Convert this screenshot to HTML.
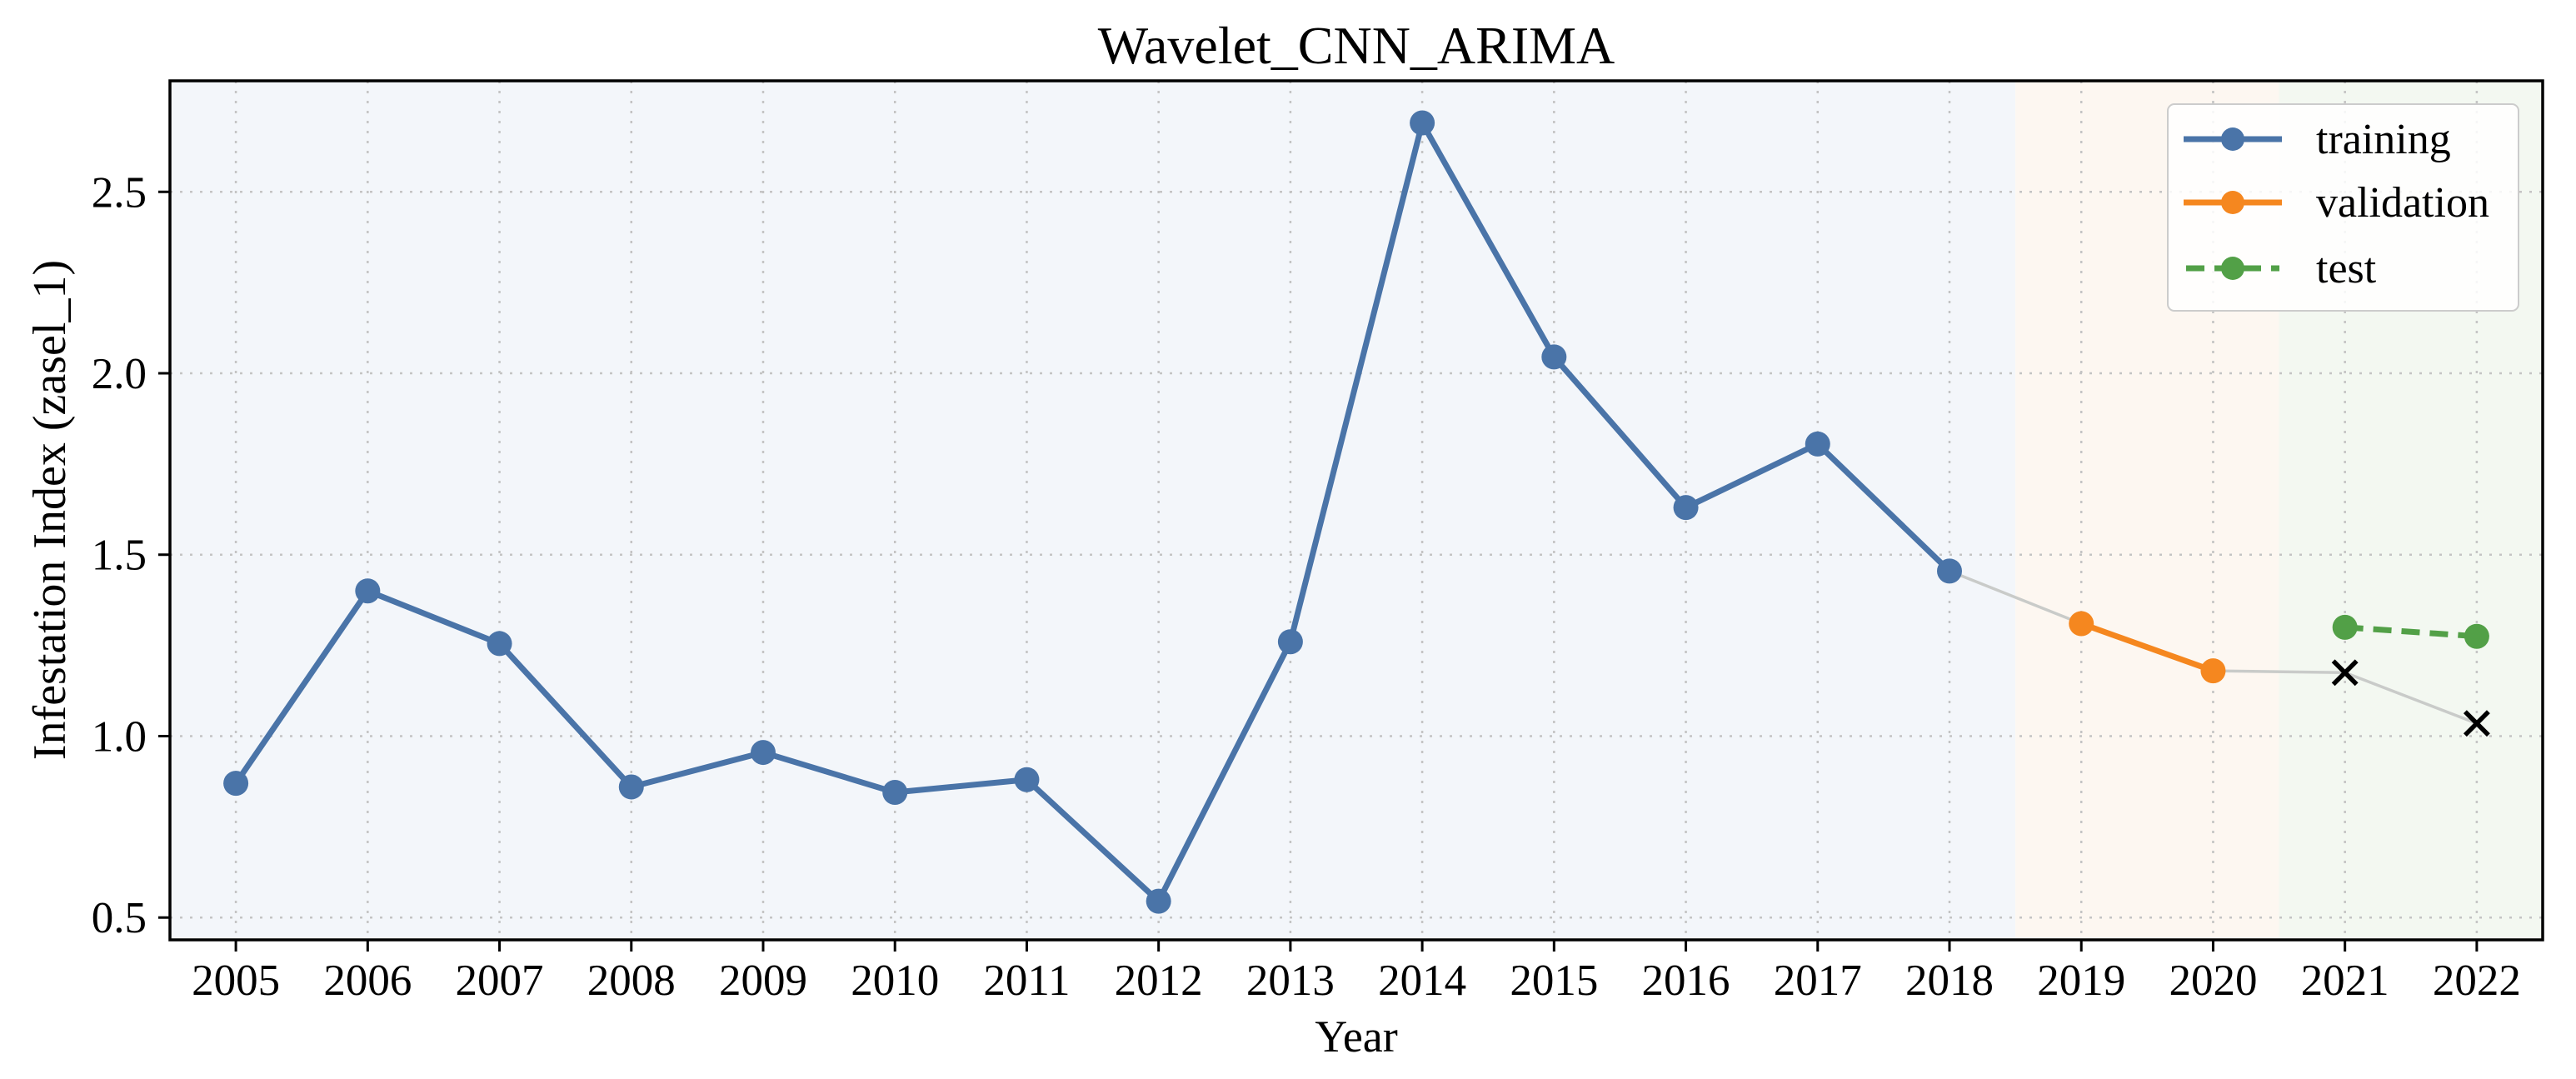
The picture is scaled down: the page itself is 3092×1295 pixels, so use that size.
<!DOCTYPE html>
<html><head><meta charset="utf-8"><style>
html,body{margin:0;padding:0;background:#fff;}
svg{display:block;font-family:"Liberation Serif",serif;}
</style></head><body>
<svg id="chart" width="3092" height="1295" viewBox="0 0 3092 1295" xmlns="http://www.w3.org/2000/svg">
<text x="1628" y="76" font-size="64" text-anchor="middle" fill="#000">Wavelet_CNN_ARIMA</text>
<g id="bg"></g>
<g id="grid"></g>
<g id="series"></g>
<rect x="204" y="97" width="2848" height="1031" fill="none" stroke="#000" stroke-width="3.5"/>
<g id="axes"></g>
<text x="1628" y="1262" font-size="54" text-anchor="middle" fill="#000">Year</text>
<text transform="translate(78,612) rotate(-90)" font-size="56" text-anchor="middle" fill="#000">Infestation Index (zasel_1)</text>
<g>
<rect x="2602" y="125" width="421" height="248" rx="8" fill="#fff" fill-opacity="0.85" stroke="#ccc" stroke-width="2"/>
<g>
<line x1="2621" y1="167" x2="2739" y2="167" stroke="#4a74a8" stroke-width="7"/><circle cx="2680" cy="167" r="14" fill="#4a74a8"/>
<text x="2780" y="184" font-size="52" fill="#000">training</text></g>
<g>
<line x1="2621" y1="243" x2="2739" y2="243" stroke="#f5871f" stroke-width="7"/><circle cx="2680" cy="243" r="14" fill="#f5871f"/>
<text x="2780" y="260" font-size="52" fill="#000">validation</text></g>
<g>
<line x1="2624" y1="322" x2="2736" y2="322" stroke="#52a047" stroke-width="7" stroke-dasharray="22,12"/><circle cx="2680" cy="322" r="14" fill="#52a047"/>
<text x="2780" y="339" font-size="52" fill="#000">test</text></g>
</g>
</svg>
<script>
const years = [2005,2006,2007,2008,2009,2010,2011,2012,2013,2014,2015,2016,2017,2018,2019,2020,2021,2022];
const trainYears = [2005,2006,2007,2008,2009,2010,2011,2012,2013,2014,2015,2016,2017,2018];
const trainValues = [0.87,1.40,1.255,0.86,0.955,0.845,0.88,0.545,1.26,2.69,2.045,1.63,1.805,1.455];
const valYears = [2019,2020];
const valValues = [1.31,1.18];
const testYears = [2021,2022];
const testPred = [1.30,1.275];
const testActual = [1.175,1.035];
const yTicks = [0.5,1.0,1.5,2.0,2.5];
const yTickLabels = ["0.5","1.0","1.5","2.0","2.5"];

const NS = "http://www.w3.org/2000/svg";
const X0=204, X1=3052, Y0=97, Y1=1128;
const xMin=2004.5, xMax=2022.5, yMin=0.4385, yMax=2.806;
function xs(v){return X0+(v-xMin)/(xMax-xMin)*(X1-X0);}
function ys(v){return Y1-(v-yMin)/(yMax-yMin)*(Y1-Y0);}
function mk(tag,attrs,parent){const e=document.createElementNS(NS,tag);for(const k in attrs)e.setAttribute(k,attrs[k]);parent.appendChild(e);return e;}

const bg=document.getElementById('bg');
let r;
r=mk('rect',{x:X0,y:Y0,width:xs(2018.5)-X0,height:Y1-Y0,fill:'#f3f6fa'},bg);


r=mk('rect',{x:xs(2018.5),y:Y0,width:xs(2020.5)-xs(2018.5),height:Y1-Y0,fill:'#fdf7f1'},bg);


r=mk('rect',{x:xs(2020.5),y:Y0,width:X1-xs(2020.5),height:Y1-Y0,fill:'#f3f8f1'},bg);



const grid=document.getElementById('grid');
const axes=document.getElementById('axes');
years.forEach(y=>{
  const g=mk('line',{x1:xs(y),x2:xs(y),y1:Y0,y2:Y1,stroke:'#c4c4c4','stroke-width':2.5,'stroke-dasharray':'3,9'},grid);
  
  
  const t=mk('line',{x1:xs(y),x2:xs(y),y1:Y1,y2:Y1+14,stroke:'#000','stroke-width':3},axes);
  
  
  const l=mk('text',{x:xs(y),y:1194,'font-size':53,'text-anchor':'middle',fill:'#000'},axes);
  l.textContent=String(y);
  
  
});
yTicks.forEach((v,i)=>{
  const g=mk('line',{x1:X0,x2:X1,y1:ys(v),y2:ys(v),stroke:'#c4c4c4','stroke-width':2.5,'stroke-dasharray':'3,9'},grid);
  
  
  const t=mk('line',{x1:X0-14,x2:X0,y1:ys(v),y2:ys(v),stroke:'#000','stroke-width':3},axes);
  
  
  const l=mk('text',{x:176,y:ys(v)+18,'font-size':53,'text-anchor':'end',fill:'#000'},axes);
  l.textContent=yTickLabels[i];
  
  
});

const series=document.getElementById('series');
function pts(xsArr,vs){return xsArr.map((x,i)=>xs(x)+','+ys(vs[i])).join(' ');}
const actYears=[trainYears[trainYears.length-1]].concat(valYears,testYears);
const actVals=[trainValues[trainValues.length-1]].concat(valValues,testActual);
let p=mk('polyline',{points:pts(actYears,actVals),fill:'none',stroke:'#c9cbc9','stroke-width':3.5},series);



function drawSeries(xa,va,color,name,dash){
  const pl=mk('polyline',{points:pts(xa,va),fill:'none',stroke:color,'stroke-width':7,'stroke-linejoin':'round'},series);
  if(dash)pl.setAttribute('stroke-dasharray',dash);
  
  
  xa.forEach((x,i)=>{
    const c=mk('circle',{cx:xs(x),cy:ys(va[i]),r:15,fill:color},series);
    
    
  });
}
drawSeries(trainYears,trainValues,'#4a74a8','training');
drawSeries(valYears,valValues,'#f5871f','validation');
drawSeries(testYears,testPred,'#52a047','test','22,12');
testYears.forEach((x,i)=>{
  const cx=xs(x),cy=ys(testActual[i]),s=14;
  const g=mk('path',{d:`M${cx-s},${cy-s}L${cx+s},${cy+s}M${cx-s},${cy+s}L${cx+s},${cy-s}`,stroke:'#000','stroke-width':5.5,fill:'none'},series);
  
  
});
</script>
</body></html>
